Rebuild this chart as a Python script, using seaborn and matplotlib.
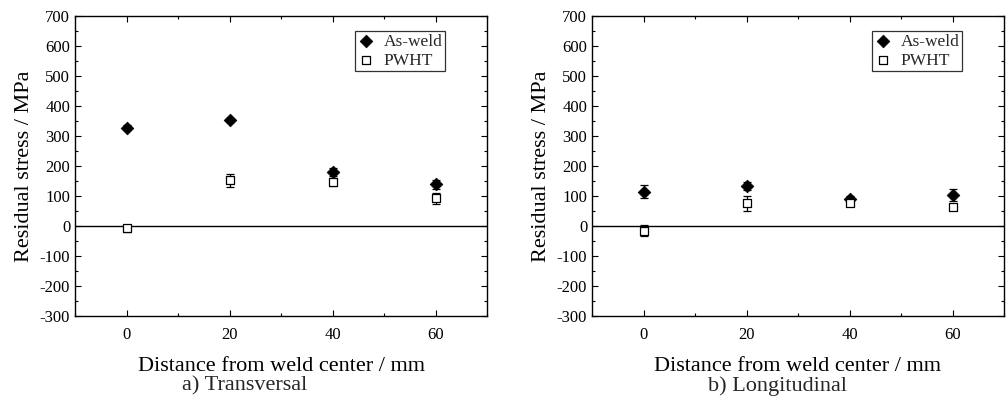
import numpy as np
import pandas as pd
import matplotlib
matplotlib.use("Agg")
import matplotlib.pyplot as plt
import seaborn as sns
from matplotlib.ticker import MultipleLocator

# ---- data ----
distance = [0, 20, 40, 60]
trans_asweld = [328, 353, 180, 139]
trans_asweld_err = [8, 6, 14, 16]
trans_pwht = [-7, 152, 146, 92]
trans_pwht_err = [12, 22, 14, 18]
long_asweld = [115, 133, 89, 105]
long_asweld_err = [22, 13, 12, 20]
long_pwht = [-15, 76, 78, 63]
long_pwht_err = [17, 25, 8, 6]
captions = ["a) Transversal", "b) Longitudinal"]
series_names = ["As-weld", "PWHT"]

sns.set_theme(style="white")
plt.rcParams['font.family'] = ['Liberation Serif', 'DejaVu Serif']
plt.rcParams['mathtext.fontset'] = 'stix'
plt.rcParams['axes.unicode_minus'] = False

fig = plt.figure(figsize=(10.07, 4.0), dpi=100)
W, H = 1007, 400
axes = [fig.add_axes([75 / W, 1 - 316 / H, 412 / W, 300 / H]),
        fig.add_axes([592 / W, 1 - 316 / H, 412 / W, 300 / H])]

panels = [(trans_asweld, trans_asweld_err, trans_pwht, trans_pwht_err),
          (long_asweld, long_asweld_err, long_pwht, long_pwht_err)]

for i, (ax, (aw, awe, pw, pwe)) in enumerate(zip(axes, panels)):
    df = pd.DataFrame({
        "x": distance * 2,
        "y": aw + pw,
        "series": [series_names[0]] * 4 + [series_names[1]] * 4,
    })
    ax.axhline(0, color="black", lw=1.0, zorder=1)
    ax.errorbar(distance, aw, yerr=awe, fmt="none", ecolor="black",
                elinewidth=0.9, capsize=3, capthick=0.9, zorder=2)
    ax.errorbar(distance, pw, yerr=pwe, fmt="none", ecolor="black",
                elinewidth=0.9, capsize=3, capthick=0.9, zorder=2)
    sns.scatterplot(data=df[df.series == series_names[0]], x="x", y="y",
                    marker="D", s=42, color="black", edgecolor="black",
                    linewidth=0.5, ax=ax, label=series_names[0], zorder=3)
    sns.scatterplot(data=df[df.series == series_names[1]], x="x", y="y",
                    marker="s", s=30, facecolor="white", edgecolor="black",
                    linewidth=0.9, ax=ax, label=series_names[1], zorder=4)
    ax.set_xlim(-10, 70)
    ax.set_ylim(-300, 700)
    ax.xaxis.set_major_locator(MultipleLocator(20))
    ax.xaxis.set_minor_locator(MultipleLocator(10))
    ax.yaxis.set_major_locator(MultipleLocator(100))
    ax.yaxis.set_minor_locator(MultipleLocator(50))
    ax.tick_params(which="both", direction="in", top=True, right=True,
                   bottom=True, left=True, colors="black", labelsize=12)
    ax.tick_params(which="major", length=4.5, width=0.8)
    ax.tick_params(which="minor", length=2.5, width=0.8)
    ax.tick_params(axis="x", pad=8)
    for sp in ax.spines.values():
        sp.set_color("black")
        sp.set_linewidth(1.0)
    ax.set_xlabel("Distance from weld center / mm", fontsize=16, color="black",
                  labelpad=10)
    ax.set_ylabel("Residual stress / MPa", fontsize=16, color="black",
                  labelpad=4)
    leg = ax.legend(loc="upper right", bbox_to_anchor=(0.898, 0.95),
                    frameon=True, fancybox=False, fontsize=12.5,
                    handletextpad=0.5, borderpad=0.15, labelspacing=0.15,
                    handlelength=1.0, borderaxespad=0)
    leg.get_frame().set_edgecolor("black")
    leg.get_frame().set_linewidth(0.9)

fig.text(245 / W, 1 - 386 / H, captions[0], ha="center", va="center",
         fontsize=16)
fig.text(777 / W, 1 - 386 / H, captions[1], ha="center", va="center",
         fontsize=16)

fig.savefig("out.png", dpi=100)
